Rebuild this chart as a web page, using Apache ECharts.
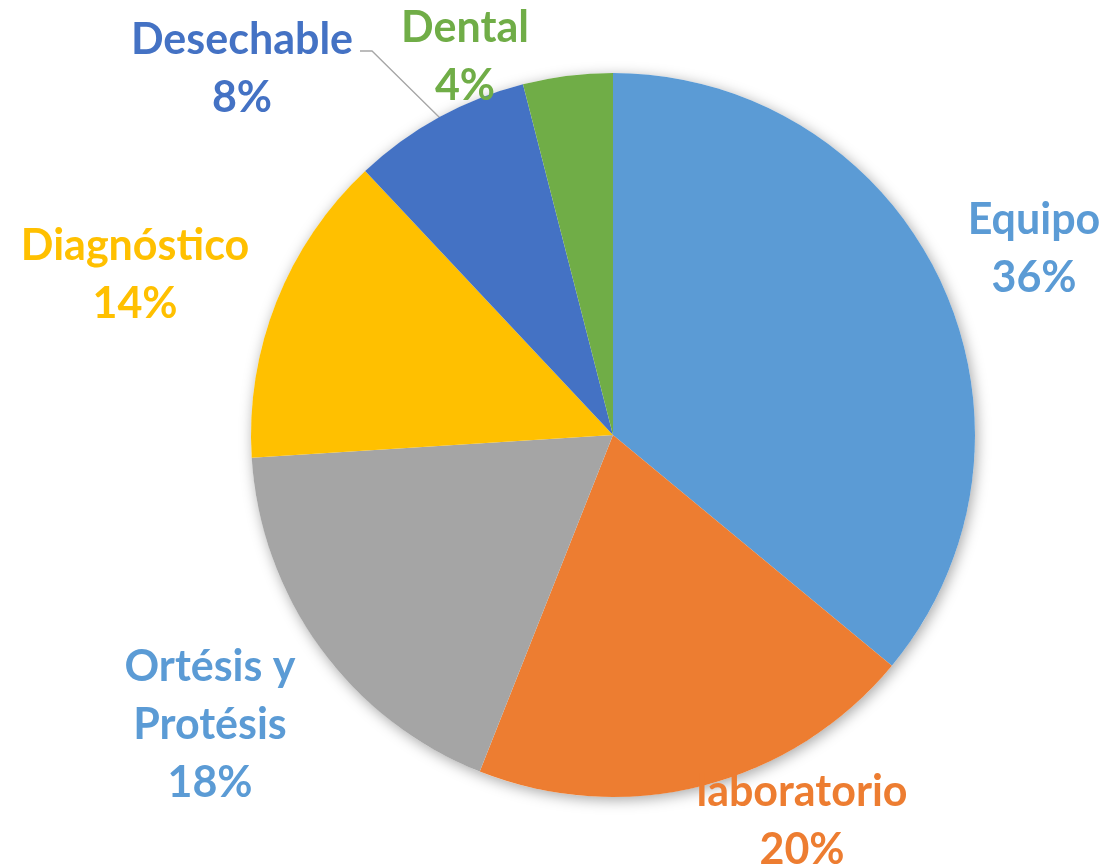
<!DOCTYPE html>
<html>
<head>
<meta charset="utf-8">
<script src="https://cdn.jsdelivr.net/npm/echarts@6/dist/echarts.min.js"></script>
<style>html,body{margin:0;padding:0;background:#fff;}#c{width:1109px;height:868px;}</style>
</head>
<body>
<div id="c"></div>
<script>
const categories = ['Equipo', 'laboratorio', 'Ortésis y Protésis', 'Diagnóstico', 'Desechable', 'Dental'];
const values = [36, 20, 18, 14, 8, 4];

const sliceColors = ['#5B9BD5', '#ED7D31', '#A5A5A5', '#FFC000', '#4472C4', '#70AD47'];
const labelColors = ['#5B9BD5', '#ED7D31', '#5B9BD5', '#FFC000', '#4472C4', '#70AD47'];
const labelPos = [[1034, 249], [802, 821], [210, 725], [135, 275], [242, 69], [465, 57]];

const chart = echarts.init(document.getElementById('c'));
chart.setOption({
  animation: false,
  series: [
    {
      type: 'pie', silent: true, center: [613, 435], radius: 362, z: 1,
      label: { show: false }, labelLine: { show: false },
      itemStyle: { color: '#fff', shadowBlur: 14, shadowColor: 'rgba(0,0,0,0.35)', shadowOffsetX: 2, shadowOffsetY: 3 },
      data: [{ value: 1 }]
    },
    {
      type: 'pie', z: 2,
      center: [613, 435], radius: 362, startAngle: 90, clockwise: true,
      data: categories.map((n, i) => ({
        name: n, value: values[i],
        itemStyle: { color: sliceColors[i] },
        label: { color: labelColors[i] },
        labelLine: { show: i === 4 }
      })),
      label: {
        show: true, position: 'outside', overflow: 'none', edgeDistance: 0,
        fontFamily: 'Lato', fontWeight: 'bold', fontSize: 43, lineHeight: 58,
        align: 'center',
        formatter: p => p.name.replace(' y ', ' y\n') + '\n' + p.value + '%'
      },
      labelLine: { show: false, lineStyle: { color: '#A6A6A6', width: 1.3 } },
      labelLayout: p => {
        const o = { x: labelPos[p.dataIndex][0], y: labelPos[p.dataIndex][1], align: 'center', verticalAlign: 'middle' };
        if (p.dataIndex === 4) o.labelLinePoints = [[440, 118], [372, 51], [360, 51]];
        return o;
      },
      itemStyle: { borderWidth: 0 }
    }
  ]
});
</script>
</body>
</html>
